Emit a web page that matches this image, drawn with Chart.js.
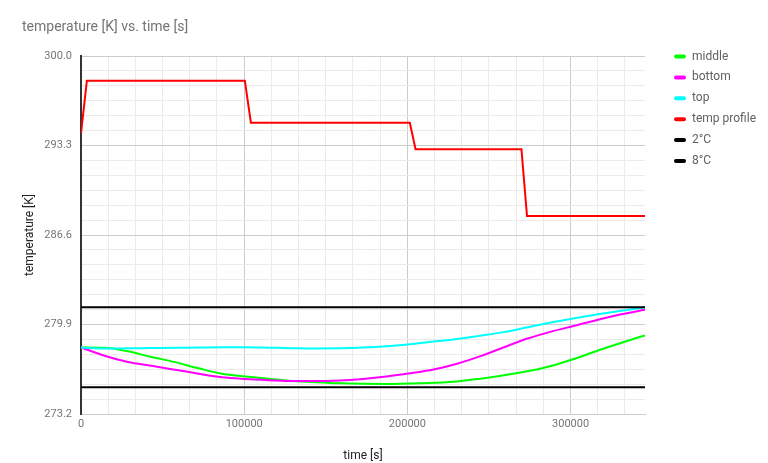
<!DOCTYPE html>
<html><head><meta charset="utf-8">
<script src="https://cdn.jsdelivr.net/npm/chart.js@4.4.0/dist/chart.umd.min.js"></script>
<style>html,body{margin:0;padding:0;background:#fff;}#wrap{width:768px;height:463px;}</style>
</head><body><div id="wrap"><canvas id="c" width="768" height="463"></canvas></div>
<script>
const timeGrid = [0,14400,28800,43200,57600,72000,86400,100800,115200,129600,144000,158400,172800,187200,201600,216000,230400,244800,259200,273600,288000,302400,316800,331200,345600];
const middleTemps = [278.14,278.12,277.85,277.42,277.04,276.58,276.17,275.97,275.79,275.63,275.53,275.45,275.41,275.40,275.43,275.49,275.59,275.80,276.05,276.35,276.75,277.29,277.91,278.49,279.05];
const bottomTemps = [278.14,277.52,277.05,276.77,276.47,276.17,275.91,275.78,275.69,275.62,275.62,275.66,275.78,275.96,276.20,276.48,276.92,277.49,278.16,278.81,279.33,279.77,280.22,280.63,280.97];
const topTemps = [278.14,278.06,278.08,278.10,278.12,278.13,278.15,278.15,278.12,278.09,278.07,278.08,278.13,278.23,278.39,278.58,278.78,279.02,279.29,279.66,280.01,280.33,280.63,280.90,281.15];
const profileTimes = [0,3600,100400,104100,201500,205000,269900,273300,345600];
const profileTemps = [294.2,298.15,298.15,295.0,295.0,293.0,293.0,288.0,288.0];
const limit2C = 275.15;
const limit8C = 281.15;
const seriesLabels = ['middle','bottom','top','temp profile','2°C','8°C'];
const seriesColors = ['#00ff00','#ff00ff','#00ffff','#ff0000','#000000','#000000'];
const yMin = 273.15, yMax = 300.0;
const yTickLabels = ['273.2','279.9','286.6','293.3','300.0'];
const xMin = 0, xMax = 345600;
const xTickLabels = ['0','100000','200000','300000'];

const pts = (xs, ys) => xs.map((x, i) => ({x, y: ys[i]}));
const flat = v => [{x: xMin, y: v}, {x: xMax, y: v}];
const seriesData = [
  pts(timeGrid, middleTemps),
  pts(timeGrid, bottomTemps),
  pts(timeGrid, topTemps),
  pts(profileTimes, profileTemps),
  flat(limit2C),
  flat(limit8C)
];

const FONT = 'Roboto';
const chromePlugin = {
  id: 'chrome',
  afterDraw(chart) {
    const ctx = chart.ctx;
    ctx.save();
    ctx.fillStyle = '#757575';
    ctx.font = '14px ' + FONT;
    ctx.textBaseline = 'middle';
    ctx.textAlign = 'left';
    ctx.fillText('temperature [K] vs. time [s]', 22, 27);
    ctx.font = '12px ' + FONT;
    chart.data.datasets.forEach((ds, i) => {
      const y = 56.5 + i * 20.9;
      ctx.strokeStyle = ds.borderColor;
      ctx.lineWidth = 4;
      ctx.lineCap = 'round';
      ctx.beginPath();
      ctx.moveTo(676, y);
      ctx.lineTo(684, y);
      ctx.stroke();
      ctx.fillStyle = '#616161';
      ctx.fillText(ds.label, 692, y);
    });
    ctx.restore();
  }
};

const nY = 24, nX = 20;
new Chart(document.getElementById('c'), {
  type: 'line',
  data: {
    datasets: seriesData.map((d, i) => ({
      label: seriesLabels[i],
      data: d,
      borderColor: seriesColors[i],
      backgroundColor: seriesColors[i],
      borderWidth: 2,
      pointRadius: 0,
      fill: false,
      cubicInterpolationMode: i < 3 ? 'monotone' : 'default',
      tension: 0,
      order: seriesData.length - i
    }))
  },
  options: {
    responsive: false,
    animation: false,
    devicePixelRatio: 1,
    layout: {padding: {top: 56, right: 123, left: 0, bottom: 0}},
    plugins: {legend: {display: false}, tooltip: {enabled: false}, title: {display: false}},
    scales: {
      x: {
        type: 'linear', min: xMin, max: xMax,
        afterFit(s) { s.height = 49; },
        afterBuildTicks(s) {
          const t = [];
          for (let i = 0; i <= nX; i++) t.push({value: i * 100000 / 6});
          s.ticks = t;
        },
        ticks: {
          autoSkip: false, maxRotation: 0, padding: 4, color: '#757575',
          font: {family: FONT, size: 11},
          callback: (v, i) => (i % 6 === 0 ? xTickLabels[i / 6] : '')
        },
        grid: {
          drawTicks: false,
          color: c => (c.index === 0 ? '#333333' : (c.index % 6 === 0 ? '#cccccc' : '#ebebeb')),
          lineWidth: c => (c.index === 0 ? 2 : 1)
        },
        border: {display: true, color: '#cccccc', width: 1},
        title: {display: true, text: 'time [s]', color: '#222222', font: {family: FONT, size: 12}, padding: {top: 9, bottom: 0}}
      },
      y: {
        type: 'linear', min: yMin, max: yMax,
        afterFit(s) { s.width = 81; },
        afterBuildTicks(s) {
          const t = [];
          for (let i = 0; i <= nY; i++) t.push({value: yMin + i * (yMax - yMin) / nY});
          s.ticks = t;
        },
        ticks: {
          autoSkip: false, padding: 9, color: '#757575',
          font: {family: FONT, size: 11},
          callback: (v, i) => (i % 6 === 0 ? yTickLabels[i / 6] : '')
        },
        grid: {
          drawTicks: false,
          color: c => (c.index % 6 === 0 ? '#cccccc' : '#ebebeb')
        },
        border: {display: true, color: '#333333', width: 2},
        title: {display: true, text: 'temperature [K]', color: '#222222', font: {family: FONT, size: 12}, padding: {top: 23, bottom: 0}}
      }
    }
  },
  plugins: [chromePlugin]
});
</script>
</body></html>
